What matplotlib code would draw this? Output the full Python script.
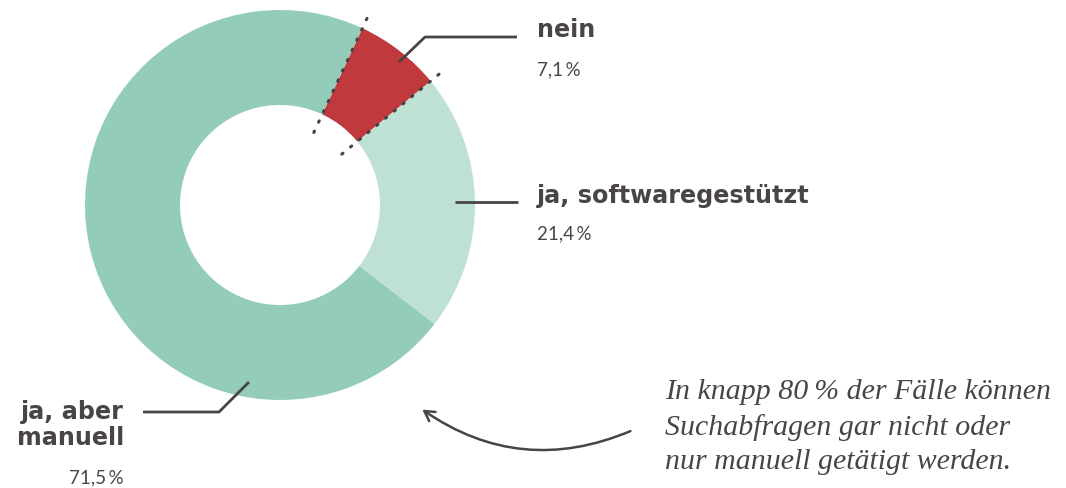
import matplotlib.pyplot as plt
import numpy as np
from matplotlib.patches import FancyArrowPatch

# data
labels = ["nein", "ja, softwaregestützt", "ja, aber\nmanuell"]
values = [7.1, 21.4, 71.5]
value_labels = ["7,1\u2009%", "21,4\u2009%", "71,5\u2009%"]
colors = ["#c0393c", "#bfe1d4", "#93cdb9"]
note = "In knapp 80\u2009% der Fälle können\nSuchabfragen gar nicht oder\nnur manuell getätigt werden."

TEXT = "#4a4545"
W, H = 1066, 488

fig = plt.figure(figsize=(W / 100, H / 100), dpi=100)
ax = fig.add_axes([0, 0, 1, 1])

cx, cy = 280, H - 205
r_out, r_in = 195, 100
start = 65
ax.pie(values, radius=r_out, center=(cx, cy), startangle=start, counterclock=False,
       colors=colors, wedgeprops=dict(width=r_out - r_in, linewidth=0))
ax.set_xlim(0, W)
ax.set_ylim(0, H)
ax.set_aspect("equal")
ax.axis("off")

# dotted edges of the "nein" slice
for frac in [0, values[0] / sum(values)]:
    a = np.deg2rad(start - 360 * frac)
    rr = np.array([80, 212])
    ax.plot(cx + rr * np.cos(a), cy + rr * np.sin(a), ls=(0, (0.5, 3.2)),
            color="#444444", lw=2.2, dash_capstyle="round", zorder=5)

# leader lines
line_kw = dict(color=TEXT, lw=2, solid_capstyle="butt")
ax.plot([399, 425, 517], [H - 62, H - 37, H - 37], **line_kw)
ax.plot([455, 518], [H - 202, H - 202], **line_kw)
ax.plot([249, 219, 143], [H - 382, H - 412, H - 412], **line_kw)

bold = dict(family="DejaVu Sans", weight="bold", color=TEXT, fontsize=17.2)
light = dict(family="Lato", color=TEXT, fontsize=13.5)

ax.text(537, H - 30, labels[0], va="center", ha="left", **bold)
ax.text(537, H - 70, value_labels[0], va="center", ha="left", **light)
ax.text(537, H - 196, labels[1], va="center", ha="left", **bold)
ax.text(537, H - 234, value_labels[1], va="center", ha="left", **light)
ax.text(124, H - 425, labels[2], va="center", ha="right", linespacing=1.12, **bold)
ax.text(124, H - 478, value_labels[2], va="center", ha="right", **light)

ax.text(665, H - 427, note, va="center", ha="left", family="Liberation Serif",
        style="italic", fontsize=21.5, color=TEXT, linespacing=1.42)

arrow = FancyArrowPatch((633, H - 430), (420, H - 408),
                        connectionstyle="arc3,rad=-0.28",
                        arrowstyle="->,head_length=7,head_width=4",
                        color=TEXT, lw=1.8)
ax.add_patch(arrow)

fig.savefig("out.png", dpi=100)
